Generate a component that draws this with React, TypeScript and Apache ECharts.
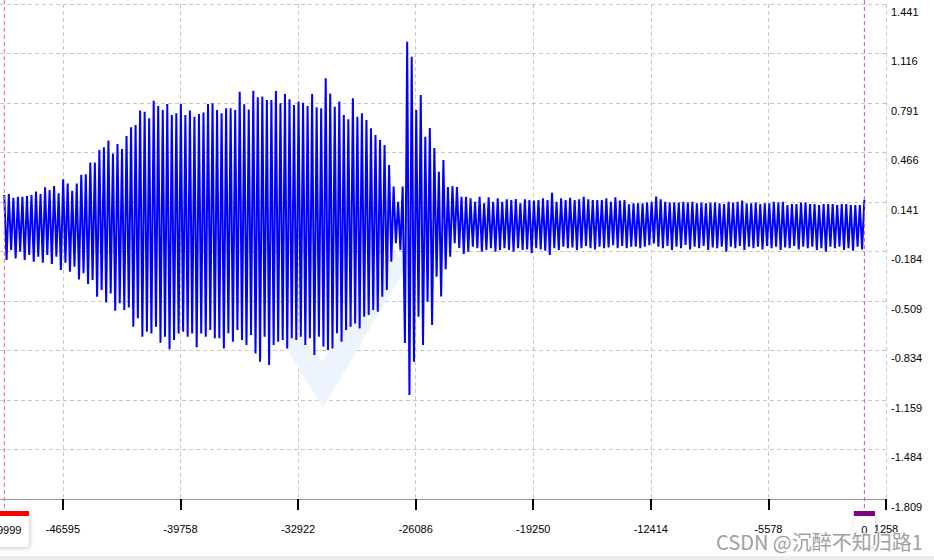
import { useEffect, useRef } from "react";
import * as echarts from "echarts";

// ---- axis ticks ----
const X_TICKS = [-46595, -39758, -32922, -26086, -19250, -12414, -5578, 1258];
const Y_TICKS = [-1.809, -1.484, -1.159, -0.834, -0.509, -0.184, 0.141, 0.466, 0.791, 1.116, 1.441];
const X_MIN = -50250;
const X_MAX = 1258;
const Y_MIN = -1.809;
const Y_MAX = 1.441;

// ---- signal: sample range and per-cycle extremes ----
const SIGNAL_START = -49999;
const SIGNAL_END = 0;

const riseHighs = [
  0.187, 0.193, 0.169, 0.176, 0.176, 0.18, 0.187, 0.209, 0.193, 0.237,
  0.22, 0.246, 0.198, 0.29, 0.263, 0.215, 0.263, 0.32, 0.323, 0.401,
  0.401, 0.482, 0.5, 0.544, 0.46, 0.522, 0.489, 0.574, 0.631, 0.646,
  0.741, 0.734, 0.69, 0.806, 0.771, 0.745, 0.784, 0.712, 0.723, 0.784,
  0.712, 0.741, 0.701, 0.719, 0.728, 0.784, 0.789, 0.745,
];
const riseLows = [
  -0.24, -0.174, -0.229, -0.185, -0.24, -0.207, -0.251, -0.218, -0.257, -0.207,
  -0.266, -0.218, -0.305, -0.257, -0.316, -0.284, -0.367, -0.327, -0.397, -0.371,
  -0.481, -0.437, -0.518, -0.459, -0.573, -0.524, -0.568, -0.551, -0.678, -0.623,
  -0.743, -0.711, -0.722, -0.678, -0.783, -0.743, -0.826, -0.765, -0.722, -0.711,
  -0.743, -0.722, -0.813, -0.722, -0.743, -0.7, -0.754, -0.754,
];
const plateauHighs = [
  0.723, 0.756, 0.756, 0.745, 0.865, 0.782, 0.749, 0.872, 0.828, 0.833,
  0.811, 0.811, 0.87, 0.789, 0.85, 0.815, 0.778, 0.8, 0.793, 0.771,
  0.85, 0.763, 0.756, 0.953, 0.854, 0.767, 0.8, 0.712, 0.684, 0.822,
  0.701, 0.723, 0.679, 0.625, 0.581, 0.548, 0.515, 0.384, 0.242, 0.143,
  0.242,
];
const plateauLows = [
  -0.82, -0.721, -0.776, -0.7, -0.765, -0.798, -0.732, -0.853, -0.907, -0.743,
  -0.929, -0.798, -0.776, -0.765, -0.82, -0.754, -0.765, -0.743, -0.798, -0.754,
  -0.864, -0.743, -0.809, -0.831, -0.82, -0.721, -0.776, -0.7, -0.678, -0.656,
  -0.689, -0.612, -0.601, -0.568, -0.579, -0.481, -0.437, -0.251, -0.13, -0.174,
  -0.785,
];
const burstHighs = [1.193, 1.095, 0.745, 0.843, 0.57, 0.627, 0.495, 0.34, 0.417, 0.24, 0.245, 0.24, 0.176];
const burstLows = [-1.126, -0.908, -0.612, -0.798, -0.514, -0.667, -0.35, -0.48, -0.3, -0.218, -0.13, -0.16, -0.2];
const steadyHighs = [
  0.176, 0.165, 0.143, 0.176, 0.132, 0.172, 0.143, 0.165, 0.143, 0.158,
  0.154, 0.161, 0.132, 0.158, 0.154, 0.15, 0.154, 0.165, 0.154, 0.202,
  0.143, 0.165, 0.154, 0.169, 0.154, 0.158, 0.176, 0.158, 0.154, 0.154,
  0.154, 0.165, 0.143, 0.172, 0.15, 0.154, 0.126, 0.132, 0.132, 0.132,
  0.137, 0.143,
  0.176, 0.158, 0.143, 0.137, 0.137, 0.137, 0.143, 0.137, 0.143, 0.132,
  0.137, 0.132, 0.137, 0.137, 0.132, 0.128, 0.143, 0.137, 0.143, 0.15,
  0.132, 0.132, 0.137, 0.128, 0.132, 0.132, 0.143, 0.137, 0.143, 0.121,
  0.128, 0.128, 0.137, 0.137, 0.128, 0.128, 0.121, 0.128, 0.128, 0.128,
  0.121, 0.128, 0.128, 0.121, 0.121, 0.121, 0.155,
];
const steadyLows = [
  -0.185, -0.152, -0.163, -0.185, -0.174, -0.163, -0.185, -0.174, -0.163, -0.174,
  -0.185, -0.163, -0.174, -0.17, -0.196, -0.163, -0.17, -0.178, -0.207, -0.163,
  -0.174, -0.152, -0.163, -0.157, -0.174, -0.163, -0.148, -0.163, -0.17, -0.152,
  -0.163, -0.157, -0.142, -0.163, -0.148, -0.163, -0.152, -0.152, -0.163, -0.152,
  -0.142, -0.131,
  -0.152, -0.163, -0.148, -0.174, -0.152, -0.163, -0.141, -0.17, -0.152, -0.163,
  -0.148, -0.174, -0.157, -0.163, -0.152, -0.185, -0.152, -0.163, -0.148, -0.174,
  -0.152, -0.163, -0.152, -0.17, -0.148, -0.163, -0.152, -0.174, -0.157, -0.163,
  -0.148, -0.17, -0.152, -0.163, -0.152, -0.174, -0.163, -0.185, -0.152, -0.163,
  -0.152, -0.174, -0.163, -0.178, -0.152, -0.17, -0.163,
];

// ---- cursors ----
const cursorValues = [-49999, 0];
const cursorLabels = ["-49999", "0"];
const cursorLineColors = ["#ff6060", "#c050c8"];
const cursorBarColors = ["#ff0000", "#800080"];

const FONT_FAMILY = '"Liberation Sans", Arial, sans-serif';

function buildSignal(): number[][] {
  const highs = [...riseHighs, ...plateauHighs, ...burstHighs, ...steadyHighs];
  const lows = [...riseLows, ...plateauLows, ...burstLows, ...steadyLows];
  const seq: number[] = [];
  for (let i = 0; i < highs.length; i++) {
    seq.push(highs[i]);
    if (i < highs.length - 1) seq.push(lows[i]);
  }
  const step = (SIGNAL_END - SIGNAL_START) / (seq.length - 1);
  return seq.map((v, k) => [SIGNAL_START + k * step, v]);
}

export default function App() {
  const ref = useRef<HTMLDivElement>(null);

  useEffect(() => {
    document.body.style.margin = "0";
    if (!ref.current) return;
    const chart = echarts.init(ref.current, null, { renderer: "svg" });
    const split = { show: true, lineStyle: { color: "#c8c8c8", type: [4, 3], width: 1 } };
    chart.setOption({
      animation: false,
      backgroundColor: "#ffffff",
      grid: { left: 0, right: 48, top: 4, bottom: 61, containLabel: false, outerBoundsMode: "none" },
      xAxis: {
        type: "value",
        min: X_MIN,
        max: X_MAX,
        position: "bottom",
        axisLine: { show: true, onZero: false, lineStyle: { color: "#999999", width: 1 } },
        axisTick: { show: true, customValues: X_TICKS, length: 11, lineStyle: { color: "#000", width: 2 } },
        axisLabel: {
          customValues: X_TICKS,
          margin: 24,
          color: "#000",
          fontSize: 11,
          fontFamily: FONT_FAMILY,
          formatter: (v: number) => String(Math.round(v)),
        },
        splitLine: split,
      },
      yAxis: {
        type: "value",
        position: "right",
        min: Y_MIN,
        max: Y_MAX,
        axisLine: { show: false },
        axisTick: { show: false, customValues: Y_TICKS },
        axisLabel: {
          customValues: Y_TICKS,
          margin: 5,
          color: "#000",
          fontSize: 11,
          fontFamily: FONT_FAMILY,
          verticalAlign: "top",
          padding: [2, 0, 0, 0],
          formatter: (v: number) => v.toFixed(3),
        },
        splitLine: split,
      },
      series: [
        {
          type: "line",
          data: buildSignal(),
          showSymbol: false,
          symbol: "none",
          z: 3,
          lineStyle: { color: "#0000ff", width: 2 },
        },
      ],
    });

    const font = `11px ${FONT_FAMILY}`;
    const ctx = document.createElement("canvas").getContext("2d");
    if (ctx) ctx.font = font;
    const gfx: any[] = [
      {
        type: "polygon",
        z: 1,
        silent: true,
        shape: { points: [[283, 343], [323, 408], [409, 262], [392, 250], [323, 362], [297, 333]] },
        style: { fill: "#eef4fd" },
      },
      { type: "rect", z: 1, shape: { x: 0, y: 556, width: 934, height: 4 }, style: { fill: "#ececec" } },
    ];
    cursorValues.forEach((v, k) => {
      const px = chart.convertToPixel({ xAxisIndex: 0 }, v) as number;
      const tw = ctx ? ctx.measureText(cursorLabels[k]).width : 30;
      const w = tw + 15;
      gfx.push({
        type: "line",
        z: 5,
        shape: { x1: px, y1: 0, x2: px, y2: 511 },
        style: { stroke: cursorLineColors[k], lineWidth: 1, lineDash: [4, 3] },
      });
      gfx.push({
        type: "rect",
        z: 5,
        shape: { x: px - w / 2, y: 516, width: w, height: 31, r: [0, 0, 3, 3] },
        style: { fill: "#fff", shadowBlur: 4, shadowColor: "rgba(0,0,0,0.22)", shadowOffsetX: 1, shadowOffsetY: 1 },
      });
      gfx.push({
        type: "rect",
        z: 6,
        shape: { x: px - w / 2, y: 511, width: w, height: 5 },
        style: { fill: cursorBarColors[k] },
      });
      gfx.push({
        type: "text",
        z: 7,
        x: px,
        y: 530,
        style: { text: cursorLabels[k], font, fill: "#000", align: "center", verticalAlign: "middle" },
      });
    });
    gfx.push({
      type: "text",
      z: 10,
      x: 716,
      y: 541,
      style: {
        text: "CSDN @沉醉不知归路1",
        font: '20px "Noto Sans CJK SC", sans-serif',
        fill: "#a0a0a0",
        stroke: "rgba(255,255,255,0.8)",
        lineWidth: 2,
        align: "left",
        verticalAlign: "middle",
      },
    });
    chart.setOption({ graphic: gfx });

    return () => chart.dispose();
  }, []);

  return <div ref={ref} style={{ width: 934, height: 560 }} />;
}
